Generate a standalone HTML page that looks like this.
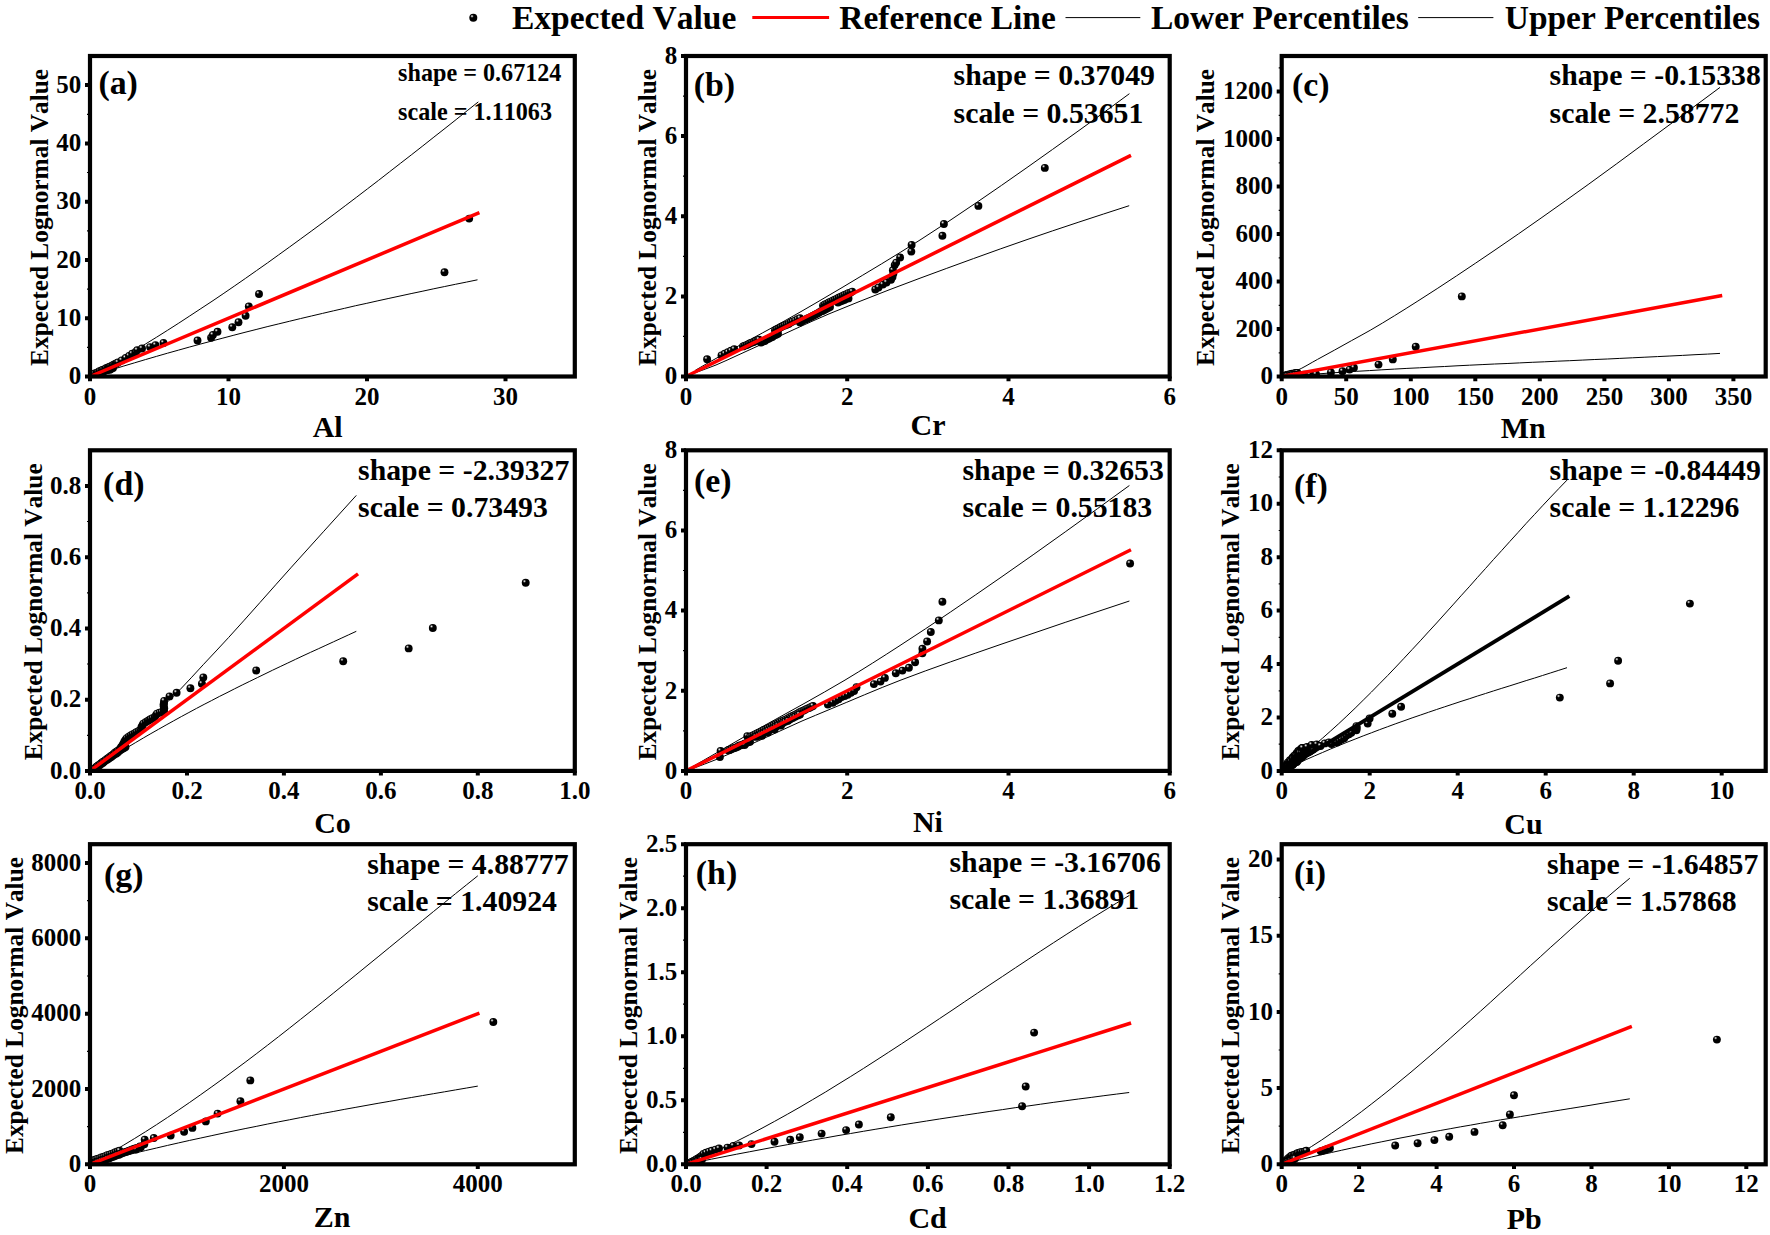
<!DOCTYPE html>
<html lang="en"><head><meta charset="utf-8"><title>Lognormal Q-Q plots</title>
<style>html,body{margin:0;padding:0;background:#fff}svg{display:block}text{font-family:"Liberation Serif", "Times New Roman", serif;font-weight:bold;fill:#000;font-kerning:none}.tk{font-size:25px}.ti{font-size:30px}.yt{font-size:26px}.lb{font-size:33.9px}.lg{font-size:33px}</style></head><body>
<svg width="1770" height="1235" viewBox="0 0 1770 1235">
<defs><radialGradient id="sp" cx="0.34" cy="0.30" r="0.62" fx="0.34" fy="0.30"><stop offset="0" stop-color="#f4f4f4"/><stop offset="0.11" stop-color="#b0b0b0"/><stop offset="0.25" stop-color="#3a3a3a"/><stop offset="0.36" stop-color="#000"/><stop offset="1" stop-color="#000"/></radialGradient></defs>
<rect width="1770" height="1235" fill="#fff"/>
<g id="legend">
<circle cx="473.3" cy="17.8" r="4" fill="url(#sp)"/>
<text class="lg" x="511.9" y="28.6" textLength="224.5" lengthAdjust="spacingAndGlyphs">Expected Value</text>
<line x1="752.3" y1="17.6" x2="829.1" y2="17.6" stroke="#f00" stroke-width="3"/>
<text class="lg" x="839.3" y="28.6" textLength="216.5" lengthAdjust="spacingAndGlyphs">Reference Line</text>
<line x1="1065.5" y1="17.6" x2="1140.3" y2="17.6" stroke="#000" stroke-width="1"/>
<text class="lg" x="1150.9" y="28.6" textLength="257.9" lengthAdjust="spacingAndGlyphs">Lower Percentiles</text>
<line x1="1418.2" y1="17.6" x2="1493.4" y2="17.6" stroke="#000" stroke-width="1"/>
<text class="lg" x="1504.8" y="28.6" textLength="255.1" lengthAdjust="spacingAndGlyphs">Upper Percentiles</text>
</g>
<g id="panel-a">
<path fill="none" stroke="#000" stroke-width="1.0" d="M90 376.5L101.1 370.3L112.2 363.9L123.3 357.4L134.4 350.8L145.5 344L156.6 337.2L167.7 330.2L178.8 323.1L189.8 315.9L200.9 308.6L212 301.3L223.1 293.8L234.2 286.2L245.3 278.5L256.4 270.7L267.5 262.9L278.6 254.9L289.7 246.9L300.8 238.8L311.9 230.7L323 222.5L334.1 214.2L345.2 205.8L356.3 197.4L367.4 188.9L378.5 180.4L389.5 171.8L400.6 163.2L411.7 154.6L422.8 145.9L433.9 137.1L445 128.4L456.1 119.6L467.2 110.7L478.3 101.9"/>
<path fill="none" stroke="#000" stroke-width="1.0" d="M90 376.5L101.1 373L112.1 369.6L123.2 366.2L134.3 362.9L145.4 359.6L156.4 356.4L167.5 353.2L178.6 350.1L189.6 347L200.7 344L211.8 341L222.9 338.1L233.9 335.2L245 332.3L256.1 329.5L267.1 326.7L278.2 324L289.3 321.3L300.4 318.6L311.4 316L322.5 313.4L333.6 310.8L344.6 308.3L355.7 305.7L366.8 303.3L377.9 300.8L388.9 298.4L400 296L411.1 293.6L422.1 291.3L433.2 288.9L444.3 286.6L455.4 284.3L466.4 282.1L477.5 279.8"/>
<clipPath id="cp-a"><rect x="90" y="56" width="484.8" height="320.5"/></clipPath>
<g fill="url(#sp)" clip-path="url(#cp-a)">
<circle cx="90.9" cy="375.7" r="3.95"/><circle cx="92.6" cy="375" r="3.95"/><circle cx="94" cy="374.7" r="3.95"/><circle cx="95.2" cy="374.3" r="3.95"/><circle cx="96.7" cy="373.6" r="3.95"/><circle cx="98.2" cy="372.7" r="3.95"/><circle cx="100" cy="372.8" r="3.95"/><circle cx="101.2" cy="371.8" r="3.95"/><circle cx="102.9" cy="372.1" r="3.95"/><circle cx="104.3" cy="371.1" r="3.95"/><circle cx="106" cy="370.3" r="3.95"/><circle cx="107.4" cy="370.1" r="3.95"/><circle cx="108.4" cy="369.5" r="3.95"/><circle cx="109.9" cy="369.8" r="3.95"/><circle cx="111.3" cy="368.8" r="3.95"/><circle cx="113" cy="368" r="3.95"/><circle cx="92.1" cy="375.2" r="3.95"/><circle cx="93.5" cy="374.2" r="3.95"/><circle cx="94.7" cy="373.5" r="3.95"/><circle cx="96.6" cy="372.9" r="3.95"/><circle cx="97.9" cy="372.2" r="3.95"/><circle cx="99.5" cy="371.2" r="3.95"/><circle cx="101.2" cy="370.8" r="3.95"/><circle cx="102.3" cy="370" r="3.95"/><circle cx="104" cy="369.6" r="3.95"/><circle cx="105.6" cy="368.4" r="3.95"/><circle cx="107.3" cy="367.6" r="3.95"/><circle cx="108.5" cy="367.5" r="3.95"/><circle cx="109.8" cy="366.6" r="3.95"/><circle cx="111.1" cy="366.1" r="3.95"/><circle cx="112.8" cy="365.3" r="3.95"/><circle cx="114.2" cy="364.4" r="3.95"/><circle cx="115.5" cy="363.9" r="3.95"/><circle cx="116.7" cy="363.1" r="3.95"/><circle cx="118" cy="362.5" r="3.95"/><circle cx="121.7" cy="360.4" r="3.95"/><circle cx="125.7" cy="358" r="3.95"/><circle cx="129.1" cy="355.9" r="3.95"/><circle cx="132.2" cy="353.7" r="3.95"/><circle cx="135.5" cy="352.2" r="3.95"/><circle cx="137.2" cy="350.2" r="3.95"/><circle cx="142" cy="348.5" r="3.95"/><circle cx="150.1" cy="347.1" r="3.95"/><circle cx="155.5" cy="345.1" r="3.95"/><circle cx="163.5" cy="342.9" r="3.95"/><circle cx="197.5" cy="340.5" r="3.95"/><circle cx="211.1" cy="337.8" r="3.95"/><circle cx="212.9" cy="335" r="3.95"/><circle cx="217.5" cy="331.8" r="3.95"/><circle cx="232.3" cy="327.2" r="3.95"/><circle cx="238.5" cy="322.2" r="3.95"/><circle cx="245.6" cy="315.8" r="3.95"/><circle cx="248.8" cy="306.5" r="3.95"/><circle cx="259" cy="294" r="3.95"/><circle cx="444.5" cy="272.3" r="3.95"/><circle cx="469.2" cy="218.6" r="3.95"/>
</g>
<line x1="90" y1="376.5" x2="477.8" y2="213.3" stroke="#f00" stroke-width="3.5" stroke-linecap="square"/>
<rect x="90" y="56" width="484.8" height="320.5" fill="none" stroke="#000" stroke-width="4.2"/>
<path d="M90 376.5v4.7M228.5 376.5v4.7M367 376.5v4.7M505.5 376.5v4.7M90 376.5h-5M90 318.2h-5M90 260h-5M90 201.7h-5M90 143.4h-5M90 85.1h-5" stroke="#000" stroke-width="4" fill="none"/>
<path d="M90 347.4h-3.0M90 289.1h-3.0M90 230.8h-3.0M90 172.5h-3.0M90 114.3h-3.0" stroke="#000" stroke-width="1.2" fill="none"/>
<text class="tk" x="90" y="404.5" text-anchor="middle">0</text>
<text class="tk" x="228.5" y="404.5" text-anchor="middle">10</text>
<text class="tk" x="367" y="404.5" text-anchor="middle">20</text>
<text class="tk" x="505.5" y="404.5" text-anchor="middle">30</text>
<text class="tk" x="81.2" y="384.2" text-anchor="end">0</text>
<text class="tk" x="81.2" y="325.9" text-anchor="end">10</text>
<text class="tk" x="81.2" y="267.7" text-anchor="end">20</text>
<text class="tk" x="81.2" y="209.4" text-anchor="end">30</text>
<text class="tk" x="81.2" y="151.1" text-anchor="end">40</text>
<text class="tk" x="81.2" y="92.8" text-anchor="end">50</text>
<text class="ti" x="327.7" y="436.7" text-anchor="middle">Al</text>
<text class="yt" transform="translate(48.4 217.4) rotate(-90)" text-anchor="middle" textLength="297" lengthAdjust="spacingAndGlyphs">Expected Lognormal Value</text>
<text class="lb" x="98.4" y="94.4">(a)</text>
<text x="398.1" y="81.2" style="font-size:24.15px">shape = 0.67124</text>
<text x="398.1" y="119.6" style="font-size:24.15px">scale = 1.11063</text>
</g>
<g id="panel-b">
<path fill="none" stroke="#000" stroke-width="1.0" d="M695.3 370.3C698.9 368.2 702.4 366.1 706 364.1C717.5 357.5 729 351.1 740.5 344.8C755 336.8 769.5 329.3 784 321.2C794.7 315.3 805.3 309.1 816 302.9C825 297.7 834 292.4 843 287C868.7 271.6 894.3 256.4 920 240C938.7 228.1 957.3 215.6 976 202.9C1010 179.8 1044 155.6 1078 131.2C1095.1 118.9 1112.3 106.3 1129.4 93.7"/>
<path fill="none" stroke="#000" stroke-width="1.0" d="M695.3 372.7C702.2 370.2 709.1 367.8 716 365C723.3 362 730.7 358.4 738 355.1C745.7 351.6 753.3 348.1 761 344.6C783.7 334.4 806.3 323.5 829 313.9C849 305.5 869 297.7 889 289.9C899.3 285.9 909.7 282.1 920 278.2C955.7 265 991.3 251.9 1027 239.6C1061.1 227.8 1095.1 216.7 1129.2 205.7"/>
<clipPath id="cp-b"><rect x="686" y="56" width="483.7" height="320.5"/></clipPath>
<g fill="url(#sp)" clip-path="url(#cp-b)">
<circle cx="707.1" cy="359.3" r="3.95"/><circle cx="721.5" cy="355.4" r="3.95"/><circle cx="724.7" cy="353.8" r="3.95"/><circle cx="727.9" cy="352.3" r="3.95"/><circle cx="731" cy="350.8" r="3.95"/><circle cx="734.2" cy="349.2" r="3.95"/><circle cx="743" cy="346.4" r="3.95"/><circle cx="744.8" cy="345.6" r="3.95"/><circle cx="746.6" cy="345.1" r="3.95"/><circle cx="748.3" cy="344.3" r="3.95"/><circle cx="750.1" cy="343.3" r="3.95"/><circle cx="751.9" cy="342.6" r="3.95"/><circle cx="753.7" cy="342.1" r="3.95"/><circle cx="755.4" cy="341" r="3.95"/><circle cx="757.2" cy="340.5" r="3.95"/><circle cx="759" cy="339.6" r="3.95"/><circle cx="761" cy="342.6" r="3.95"/><circle cx="762.9" cy="341.6" r="3.95"/><circle cx="764.8" cy="341" r="3.95"/><circle cx="766.7" cy="339.6" r="3.95"/><circle cx="768.6" cy="338.7" r="3.95"/><circle cx="770.4" cy="337.7" r="3.95"/><circle cx="772.3" cy="337" r="3.95"/><circle cx="774.2" cy="335.5" r="3.95"/><circle cx="776.1" cy="334.8" r="3.95"/><circle cx="778" cy="333.8" r="3.95"/><circle cx="775" cy="330.3" r="3.95"/><circle cx="776.9" cy="329.3" r="3.95"/><circle cx="778.9" cy="328.5" r="3.95"/><circle cx="780.8" cy="327.2" r="3.95"/><circle cx="782.8" cy="326.3" r="3.95"/><circle cx="784.7" cy="325.4" r="3.95"/><circle cx="786.7" cy="324.8" r="3.95"/><circle cx="788.6" cy="323.9" r="3.95"/><circle cx="790.6" cy="322.5" r="3.95"/><circle cx="792.5" cy="321.6" r="3.95"/><circle cx="795" cy="320.6" r="3.95"/><circle cx="797.5" cy="319.3" r="3.95"/><circle cx="800" cy="318.2" r="3.95"/><circle cx="800" cy="322.4" r="3.95"/><circle cx="801.9" cy="321.2" r="3.95"/><circle cx="803.8" cy="320.1" r="3.95"/><circle cx="805.6" cy="319.4" r="3.95"/><circle cx="807.5" cy="318.4" r="3.95"/><circle cx="809.4" cy="317.6" r="3.95"/><circle cx="811.2" cy="316.8" r="3.95"/><circle cx="813.1" cy="315.7" r="3.95"/><circle cx="815" cy="314.7" r="3.95"/><circle cx="816.9" cy="313.8" r="3.95"/><circle cx="818.8" cy="312.8" r="3.95"/><circle cx="820.6" cy="311.5" r="3.95"/><circle cx="822.5" cy="311" r="3.95"/><circle cx="824.4" cy="310" r="3.95"/><circle cx="826.2" cy="309.1" r="3.95"/><circle cx="828.1" cy="308.1" r="3.95"/><circle cx="830" cy="306.9" r="3.95"/><circle cx="823" cy="305.6" r="3.95"/><circle cx="824.9" cy="304.4" r="3.95"/><circle cx="826.9" cy="303.8" r="3.95"/><circle cx="828.8" cy="302.5" r="3.95"/><circle cx="830.8" cy="301.6" r="3.95"/><circle cx="832.7" cy="300.7" r="3.95"/><circle cx="834.7" cy="299.8" r="3.95"/><circle cx="836.6" cy="298.9" r="3.95"/><circle cx="838.6" cy="297.8" r="3.95"/><circle cx="840.5" cy="296.9" r="3.95"/><circle cx="842.5" cy="296" r="3.95"/><circle cx="844.4" cy="295" r="3.95"/><circle cx="846.4" cy="294.3" r="3.95"/><circle cx="848.3" cy="293.1" r="3.95"/><circle cx="850.3" cy="292.7" r="3.95"/><circle cx="852.2" cy="291.6" r="3.95"/><circle cx="838" cy="302.5" r="3.95"/><circle cx="840.1" cy="301.6" r="3.95"/><circle cx="842.2" cy="300.8" r="3.95"/><circle cx="844.3" cy="299.9" r="3.95"/><circle cx="846.4" cy="298.8" r="3.95"/><circle cx="848.5" cy="298.4" r="3.95"/><circle cx="875.3" cy="289.5" r="3.95"/><circle cx="878.5" cy="287.5" r="3.95"/><circle cx="882.9" cy="284.6" r="3.95"/><circle cx="886.5" cy="282.5" r="3.95"/><circle cx="891" cy="279.8" r="3.95"/><circle cx="892.5" cy="276.9" r="3.95"/><circle cx="893.4" cy="273.5" r="3.95"/><circle cx="892.9" cy="270.3" r="3.95"/><circle cx="894.7" cy="265.1" r="3.95"/><circle cx="896.2" cy="262.6" r="3.95"/><circle cx="900.1" cy="257.5" r="3.95"/><circle cx="911.3" cy="251.6" r="3.95"/><circle cx="911.6" cy="244.9" r="3.95"/><circle cx="942.4" cy="235.8" r="3.95"/><circle cx="943.9" cy="224" r="3.95"/><circle cx="978.4" cy="205.9" r="3.95"/><circle cx="1044.8" cy="167.9" r="3.95"/>
</g>
<line x1="686" y1="376.5" x2="1129.4" y2="156.2" stroke="#f00" stroke-width="3.5" stroke-linecap="square"/>
<rect x="686" y="56" width="483.7" height="320.5" fill="none" stroke="#000" stroke-width="4.2"/>
<path d="M686 376.5v4.7M847.2 376.5v4.7M1008.5 376.5v4.7M1169.7 376.5v4.7M686 376.5h-5M686 296.4h-5M686 216.2h-5M686 136.1h-5M686 56h-5" stroke="#000" stroke-width="4" fill="none"/>
<path d="M686 336.4h-3.0M686 256.3h-3.0M686 176.2h-3.0M686 96.1h-3.0" stroke="#000" stroke-width="1.2" fill="none"/>
<text class="tk" x="686" y="404.5" text-anchor="middle">0</text>
<text class="tk" x="847.2" y="404.5" text-anchor="middle">2</text>
<text class="tk" x="1008.5" y="404.5" text-anchor="middle">4</text>
<text class="tk" x="1169.7" y="404.5" text-anchor="middle">6</text>
<text class="tk" x="677.2" y="384.2" text-anchor="end">0</text>
<text class="tk" x="677.2" y="304.1" text-anchor="end">2</text>
<text class="tk" x="677.2" y="223.9" text-anchor="end">4</text>
<text class="tk" x="677.2" y="143.8" text-anchor="end">6</text>
<text class="tk" x="677.2" y="63.7" text-anchor="end">8</text>
<text class="ti" x="928.1" y="435.3" text-anchor="middle">Cr</text>
<text class="yt" transform="translate(656.2 217.4) rotate(-90)" text-anchor="middle" textLength="297" lengthAdjust="spacingAndGlyphs">Expected Lognormal Value</text>
<text class="lb" x="693.7" y="96.3">(b)</text>
<text x="953.6" y="85.1" style="font-size:29.78px">shape = 0.37049</text>
<text x="953.6" y="123.1" style="font-size:29.78px">scale = 0.53651</text>
</g>
<g id="panel-c">
<path fill="none" stroke="#000" stroke-width="1.0" d="M1281.7 376.5C1286.7 374.7 1291.6 372.9 1296.6 370.7C1303.6 367.6 1310.5 363.2 1317.5 359.4C1323.2 356.3 1328.8 353.2 1334.5 350.1C1340.1 347 1345.8 343.8 1351.4 340.7C1357.8 337.1 1364.3 333.7 1370.7 330C1386.4 320.9 1402.2 311 1417.9 301C1443.6 284.7 1469.3 267.5 1495 250C1526.3 228.7 1557.6 206.5 1588.9 184C1607.1 170.9 1625.4 157.3 1643.6 143.9C1669.1 125.2 1694.5 106.3 1720 87.4"/>
<path fill="none" stroke="#000" stroke-width="1.0" d="M1281.7 376.5L1294.2 375.6L1306.7 374.7L1319.3 373.8L1331.8 372.9L1344.3 372.1L1356.8 371.3L1369.4 370.6L1381.9 369.8L1394.4 369.1L1406.9 368.4L1419.5 367.8L1432 367.1L1444.5 366.5L1457 365.8L1469.5 365.2L1482.1 364.6L1494.6 364L1507.1 363.5L1519.6 362.9L1532.2 362.3L1544.7 361.8L1557.2 361.2L1569.7 360.7L1582.2 360.1L1594.8 359.5L1607.3 359L1619.8 358.4L1632.3 357.8L1644.9 357.2L1657.4 356.6L1669.9 356L1682.4 355.4L1695 354.7L1707.5 354.1L1720 353.4"/>
<clipPath id="cp-c"><rect x="1281.7" y="56" width="484" height="320.5"/></clipPath>
<g fill="url(#sp)" clip-path="url(#cp-c)">
<circle cx="1283.7" cy="376.3" r="3.95"/><circle cx="1284.6" cy="375.7" r="3.95"/><circle cx="1285.6" cy="375.5" r="3.95"/><circle cx="1286.8" cy="375.3" r="3.95"/><circle cx="1287.9" cy="374.6" r="3.95"/><circle cx="1289.6" cy="374.5" r="3.95"/><circle cx="1290.7" cy="374.2" r="3.95"/><circle cx="1292" cy="373.8" r="3.95"/><circle cx="1293.8" cy="373.7" r="3.95"/><circle cx="1295" cy="373.2" r="3.95"/><circle cx="1296.1" cy="372.9" r="3.95"/><circle cx="1297.5" cy="372.9" r="3.95"/><circle cx="1284.1" cy="376" r="3.95"/><circle cx="1285.7" cy="375.8" r="3.95"/><circle cx="1287.1" cy="375.8" r="3.95"/><circle cx="1289" cy="375.7" r="3.95"/><circle cx="1290.5" cy="375.6" r="3.95"/><circle cx="1292.1" cy="375.2" r="3.95"/><circle cx="1293.7" cy="375.2" r="3.95"/><circle cx="1295.1" cy="374.9" r="3.95"/><circle cx="1296.9" cy="375" r="3.95"/><circle cx="1298.7" cy="375.1" r="3.95"/><circle cx="1300.3" cy="375.1" r="3.95"/><circle cx="1302.2" cy="375" r="3.95"/><circle cx="1303.5" cy="374.6" r="3.95"/><circle cx="1305.1" cy="374.6" r="3.95"/><circle cx="1306.7" cy="374.7" r="3.95"/><circle cx="1308.6" cy="374.7" r="3.95"/><circle cx="1310" cy="374.5" r="3.95"/><circle cx="1316" cy="374.3" r="3.95"/><circle cx="1330.9" cy="372.4" r="3.95"/><circle cx="1342.5" cy="371.2" r="3.95"/><circle cx="1349.6" cy="369.6" r="3.95"/><circle cx="1353.9" cy="367.8" r="3.95"/><circle cx="1378.5" cy="364.6" r="3.95"/><circle cx="1392.8" cy="359.4" r="3.95"/><circle cx="1415.7" cy="346.7" r="3.95"/><circle cx="1461.8" cy="296.4" r="3.95"/>
</g>
<line x1="1281.7" y1="376.5" x2="1720.5" y2="295.8" stroke="#f00" stroke-width="3.5" stroke-linecap="square"/>
<rect x="1281.7" y="56" width="484" height="320.5" fill="none" stroke="#000" stroke-width="4.2"/>
<path d="M1281.7 376.5v4.7M1346.2 376.5v4.7M1410.8 376.5v4.7M1475.3 376.5v4.7M1539.8 376.5v4.7M1604.4 376.5v4.7M1668.9 376.5v4.7M1733.4 376.5v4.7M1281.7 376.5h-5M1281.7 329h-5M1281.7 281.5h-5M1281.7 234.1h-5M1281.7 186.6h-5M1281.7 139.1h-5M1281.7 91.6h-5" stroke="#000" stroke-width="4" fill="none"/>
<path d="M1281.7 352.8h-3.0M1281.7 305.3h-3.0M1281.7 257.8h-3.0M1281.7 210.3h-3.0M1281.7 162.8h-3.0M1281.7 115.4h-3.0M1281.7 67.9h-3.0" stroke="#000" stroke-width="1.2" fill="none"/>
<text class="tk" x="1281.7" y="404.5" text-anchor="middle">0</text>
<text class="tk" x="1346.2" y="404.5" text-anchor="middle">50</text>
<text class="tk" x="1410.8" y="404.5" text-anchor="middle">100</text>
<text class="tk" x="1475.3" y="404.5" text-anchor="middle">150</text>
<text class="tk" x="1539.8" y="404.5" text-anchor="middle">200</text>
<text class="tk" x="1604.4" y="404.5" text-anchor="middle">250</text>
<text class="tk" x="1668.9" y="404.5" text-anchor="middle">300</text>
<text class="tk" x="1733.4" y="404.5" text-anchor="middle">350</text>
<text class="tk" x="1272.9" y="384.2" text-anchor="end">0</text>
<text class="tk" x="1272.9" y="336.7" text-anchor="end">200</text>
<text class="tk" x="1272.9" y="289.2" text-anchor="end">400</text>
<text class="tk" x="1272.9" y="241.8" text-anchor="end">600</text>
<text class="tk" x="1272.9" y="194.3" text-anchor="end">800</text>
<text class="tk" x="1272.9" y="146.8" text-anchor="end">1000</text>
<text class="tk" x="1272.9" y="99.3" text-anchor="end">1200</text>
<text class="ti" x="1523.2" y="437.6" text-anchor="middle">Mn</text>
<text class="yt" transform="translate(1214.2 217.4) rotate(-90)" text-anchor="middle" textLength="297" lengthAdjust="spacingAndGlyphs">Expected Lognormal Value</text>
<text class="lb" x="1292" y="96.3">(c)</text>
<text x="1549.6" y="85.1" style="font-size:29.78px">shape = -0.15338</text>
<text x="1549.6" y="123.1" style="font-size:29.78px">scale = 2.58772</text>
</g>
<g id="panel-d">
<path fill="none" stroke="#000" stroke-width="1.0" d="M90 770.9C101.7 761.6 113.3 752.3 125 742C133.3 734.6 141.7 726.4 150 718.5C156.7 712.2 163.3 705.9 170 699.5C173.3 696.3 176.6 693.2 179.9 689.8C187.8 681.7 195.7 672.8 203.6 664.3C211.9 655.4 220.3 646.6 228.6 637.5C249.5 614.6 270.5 590.5 291.4 567.2C313 543.1 334.7 519.3 356.3 495.4"/>
<path fill="none" stroke="#000" stroke-width="1.0" d="M90 770.9L97.6 766L105.2 761.1L112.8 756.4L120.4 751.7L128 747.1L135.7 742.5L143.3 738L150.9 733.6L158.5 729.3L166.1 725L173.7 720.8L181.3 716.6L188.9 712.5L196.5 708.4L204.1 704.4L211.7 700.5L219.3 696.5L227 692.7L234.6 688.8L242.2 685L249.8 681.3L257.4 677.6L265 673.9L272.6 670.2L280.2 666.6L287.8 663L295.4 659.4L303 655.8L310.6 652.3L318.3 648.8L325.9 645.3L333.5 641.8L341.1 638.3L348.7 634.8L356.3 631.3"/>
<clipPath id="cp-d"><rect x="90" y="450.3" width="484.8" height="320.6"/></clipPath>
<g fill="url(#sp)" clip-path="url(#cp-d)">
<circle cx="92" cy="770.3" r="3.95"/><circle cx="93.5" cy="769.3" r="3.95"/><circle cx="95" cy="768.3" r="3.95"/><circle cx="96.6" cy="766.9" r="3.95"/><circle cx="98.1" cy="766.1" r="3.95"/><circle cx="99.6" cy="765.2" r="3.95"/><circle cx="101.1" cy="764" r="3.95"/><circle cx="102.7" cy="762.9" r="3.95"/><circle cx="104.2" cy="761.7" r="3.95"/><circle cx="105.7" cy="760.5" r="3.95"/><circle cx="107.2" cy="759.7" r="3.95"/><circle cx="108.8" cy="758.4" r="3.95"/><circle cx="110.3" cy="757.6" r="3.95"/><circle cx="111.8" cy="756.6" r="3.95"/><circle cx="113.3" cy="755.3" r="3.95"/><circle cx="114.8" cy="754.2" r="3.95"/><circle cx="116.4" cy="753.4" r="3.95"/><circle cx="117.9" cy="752.2" r="3.95"/><circle cx="119.4" cy="750.8" r="3.95"/><circle cx="120.9" cy="749.7" r="3.95"/><circle cx="122.5" cy="748.7" r="3.95"/><circle cx="124" cy="748" r="3.95"/><circle cx="125.5" cy="746.9" r="3.95"/><circle cx="92" cy="770" r="3.95"/><circle cx="93.5" cy="769.2" r="3.95"/><circle cx="95.1" cy="768.1" r="3.95"/><circle cx="96.6" cy="766.8" r="3.95"/><circle cx="98.1" cy="765.5" r="3.95"/><circle cx="99.6" cy="764.4" r="3.95"/><circle cx="101.2" cy="763.1" r="3.95"/><circle cx="102.7" cy="761.9" r="3.95"/><circle cx="104.2" cy="761.2" r="3.95"/><circle cx="105.7" cy="759.9" r="3.95"/><circle cx="107.3" cy="758.7" r="3.95"/><circle cx="108.8" cy="757.8" r="3.95"/><circle cx="110.3" cy="756.4" r="3.95"/><circle cx="111.8" cy="755.5" r="3.95"/><circle cx="113.4" cy="754.3" r="3.95"/><circle cx="114.9" cy="752.8" r="3.95"/><circle cx="116.4" cy="751.7" r="3.95"/><circle cx="117.9" cy="750.6" r="3.95"/><circle cx="119.5" cy="749.4" r="3.95"/><circle cx="121" cy="748.5" r="3.95"/><circle cx="120.9" cy="747.5" r="3.95"/><circle cx="121.9" cy="746.2" r="3.95"/><circle cx="122.9" cy="744.5" r="3.95"/><circle cx="123.8" cy="743.5" r="3.95"/><circle cx="124.6" cy="742.2" r="3.95"/><circle cx="124.4" cy="741.5" r="3.95"/><circle cx="125.6" cy="739.8" r="3.95"/><circle cx="126.7" cy="738.1" r="3.95"/><circle cx="128.8" cy="736.7" r="3.95"/><circle cx="130.7" cy="735.4" r="3.95"/><circle cx="132.5" cy="734.4" r="3.95"/><circle cx="134.5" cy="733.5" r="3.95"/><circle cx="136.3" cy="732.3" r="3.95"/><circle cx="138.4" cy="731.3" r="3.95"/><circle cx="140.2" cy="730" r="3.95"/><circle cx="141.5" cy="726.9" r="3.95"/><circle cx="142.6" cy="725.3" r="3.95"/><circle cx="143.3" cy="723.6" r="3.95"/><circle cx="145.6" cy="722.3" r="3.95"/><circle cx="147.5" cy="721.1" r="3.95"/><circle cx="149" cy="720.3" r="3.95"/><circle cx="150.5" cy="719.3" r="3.95"/><circle cx="152.5" cy="718.3" r="3.95"/><circle cx="154.7" cy="717.1" r="3.95"/><circle cx="156" cy="715.1" r="3.95"/><circle cx="157" cy="713.6" r="3.95"/><circle cx="159.5" cy="712.7" r="3.95"/><circle cx="161.6" cy="712.2" r="3.95"/><circle cx="163.9" cy="711.5" r="3.95"/><circle cx="163.9" cy="709.9" r="3.95"/><circle cx="164.2" cy="708.2" r="3.95"/><circle cx="163.7" cy="706.3" r="3.95"/><circle cx="163.6" cy="704.4" r="3.95"/><circle cx="164" cy="702.9" r="3.95"/><circle cx="164.1" cy="700.9" r="3.95"/><circle cx="169.5" cy="696.4" r="3.95"/><circle cx="176.6" cy="692.8" r="3.95"/><circle cx="190.4" cy="688.3" r="3.95"/><circle cx="201.9" cy="683.7" r="3.95"/><circle cx="203.3" cy="677.4" r="3.95"/><circle cx="256.2" cy="670.5" r="3.95"/><circle cx="343.2" cy="661.2" r="3.95"/><circle cx="408.7" cy="648.4" r="3.95"/><circle cx="432.8" cy="628" r="3.95"/><circle cx="525.7" cy="582.8" r="3.95"/>
</g>
<line x1="90" y1="770.9" x2="356.6" y2="575" stroke="#f00" stroke-width="3.5" stroke-linecap="square"/>
<rect x="90" y="450.3" width="484.8" height="320.6" fill="none" stroke="#000" stroke-width="4.2"/>
<path d="M90 770.9v4.7M187 770.9v4.7M283.9 770.9v4.7M380.9 770.9v4.7M477.8 770.9v4.7M574.8 770.9v4.7M90 770.9h-5M90 699.7h-5M90 628.4h-5M90 557.2h-5M90 485.9h-5" stroke="#000" stroke-width="4" fill="none"/>
<path d="M90 735.3h-3.0M90 664h-3.0M90 592.8h-3.0M90 521.5h-3.0" stroke="#000" stroke-width="1.2" fill="none"/>
<text class="tk" x="90" y="798.9" text-anchor="middle">0.0</text>
<text class="tk" x="187" y="798.9" text-anchor="middle">0.2</text>
<text class="tk" x="283.9" y="798.9" text-anchor="middle">0.4</text>
<text class="tk" x="380.9" y="798.9" text-anchor="middle">0.6</text>
<text class="tk" x="477.8" y="798.9" text-anchor="middle">0.8</text>
<text class="tk" x="574.8" y="798.9" text-anchor="middle">1.0</text>
<text class="tk" x="81.2" y="778.6" text-anchor="end">0.0</text>
<text class="tk" x="81.2" y="707.4" text-anchor="end">0.2</text>
<text class="tk" x="81.2" y="636.1" text-anchor="end">0.4</text>
<text class="tk" x="81.2" y="564.9" text-anchor="end">0.6</text>
<text class="tk" x="81.2" y="493.6" text-anchor="end">0.8</text>
<text class="ti" x="332.5" y="832.7" text-anchor="middle">Co</text>
<text class="yt" transform="translate(41.6 611.8) rotate(-90)" text-anchor="middle" textLength="297" lengthAdjust="spacingAndGlyphs">Expected Lognormal Value</text>
<text class="lb" x="103.1" y="494.7">(d)</text>
<text x="358.1" y="479.6" style="font-size:29.78px">shape = -2.39327</text>
<text x="358.1" y="516.9" style="font-size:29.78px">scale = 0.73493</text>
</g>
<g id="panel-e">
<path fill="none" stroke="#000" stroke-width="1.0" d="M693 766.4C700.7 762 708.3 757.6 716 753.2C727.3 746.6 738.7 739.9 750 733.5C768 723.3 786 713.8 804 703.6C817.7 695.9 831.3 688.2 845 680.1C863.3 669.1 881.7 657.4 900 645.5C933.7 623.7 967.3 600.7 1001 577.3C1043.8 547.6 1086.6 516.6 1129.4 485.5"/>
<path fill="none" stroke="#000" stroke-width="1.0" d="M693 768.4C700.7 765.6 708.3 762.7 716 759.6C727.3 755 738.7 749.7 750 744.7C767.3 737 784.7 728.6 802 721C811 717.1 820 713.5 829 709.7C852.7 699.9 876.3 689.5 900 680.4C933.7 667.5 967.3 656 1001 644.3C1043.8 629.4 1086.6 615.2 1129.4 601"/>
<clipPath id="cp-e"><rect x="686" y="450.3" width="483.7" height="320.6"/></clipPath>
<g fill="url(#sp)" clip-path="url(#cp-e)">
<circle cx="719.9" cy="757" r="3.95"/><circle cx="720.6" cy="751" r="3.95"/><circle cx="728" cy="750.2" r="3.95"/><circle cx="729.8" cy="749.9" r="3.95"/><circle cx="731.7" cy="748.8" r="3.95"/><circle cx="733.5" cy="748.2" r="3.95"/><circle cx="735.3" cy="747.7" r="3.95"/><circle cx="737.2" cy="746.9" r="3.95"/><circle cx="739" cy="745.8" r="3.95"/><circle cx="740.8" cy="745.2" r="3.95"/><circle cx="742.7" cy="744.6" r="3.95"/><circle cx="744.5" cy="743.7" r="3.95"/><circle cx="746.3" cy="742.9" r="3.95"/><circle cx="748.2" cy="742.3" r="3.95"/><circle cx="750" cy="741.8" r="3.95"/><circle cx="747.3" cy="736.2" r="3.95"/><circle cx="750" cy="736.8" r="3.95"/><circle cx="752" cy="736" r="3.95"/><circle cx="753.9" cy="735" r="3.95"/><circle cx="755.9" cy="733.9" r="3.95"/><circle cx="757.9" cy="733" r="3.95"/><circle cx="759.8" cy="732.2" r="3.95"/><circle cx="761.8" cy="731.2" r="3.95"/><circle cx="763.8" cy="730" r="3.95"/><circle cx="765.8" cy="729.4" r="3.95"/><circle cx="767.7" cy="728.3" r="3.95"/><circle cx="769.7" cy="727.5" r="3.95"/><circle cx="771.7" cy="726.1" r="3.95"/><circle cx="773.6" cy="725.2" r="3.95"/><circle cx="775.6" cy="724.2" r="3.95"/><circle cx="777.6" cy="723.5" r="3.95"/><circle cx="779.5" cy="722.3" r="3.95"/><circle cx="781.5" cy="721.3" r="3.95"/><circle cx="783.5" cy="720.4" r="3.95"/><circle cx="785.4" cy="719.6" r="3.95"/><circle cx="787.4" cy="718.6" r="3.95"/><circle cx="789.4" cy="717.4" r="3.95"/><circle cx="791.3" cy="716.4" r="3.95"/><circle cx="793.3" cy="715.8" r="3.95"/><circle cx="795.3" cy="714.6" r="3.95"/><circle cx="797.2" cy="713.7" r="3.95"/><circle cx="799.2" cy="712.5" r="3.95"/><circle cx="801.2" cy="711.5" r="3.95"/><circle cx="803.2" cy="710.8" r="3.95"/><circle cx="805.1" cy="709.7" r="3.95"/><circle cx="807.1" cy="708.6" r="3.95"/><circle cx="809.1" cy="708" r="3.95"/><circle cx="811" cy="706.9" r="3.95"/><circle cx="813" cy="706" r="3.95"/><circle cx="756" cy="736.9" r="3.95"/><circle cx="758.4" cy="736.1" r="3.95"/><circle cx="760.9" cy="734.3" r="3.95"/><circle cx="763.3" cy="733.5" r="3.95"/><circle cx="765.8" cy="732" r="3.95"/><circle cx="768.2" cy="730.7" r="3.95"/><circle cx="770.7" cy="729.6" r="3.95"/><circle cx="773.1" cy="728.5" r="3.95"/><circle cx="775.6" cy="726.9" r="3.95"/><circle cx="778" cy="725.5" r="3.95"/><circle cx="780.4" cy="724.5" r="3.95"/><circle cx="782.9" cy="723.1" r="3.95"/><circle cx="785.3" cy="721.8" r="3.95"/><circle cx="787.8" cy="720.5" r="3.95"/><circle cx="790.2" cy="719.2" r="3.95"/><circle cx="792.7" cy="718" r="3.95"/><circle cx="795.1" cy="716.8" r="3.95"/><circle cx="797.6" cy="715.6" r="3.95"/><circle cx="800" cy="714.6" r="3.95"/><circle cx="744.6" cy="745" r="3.95"/><circle cx="762" cy="735.7" r="3.95"/><circle cx="768" cy="732.6" r="3.95"/><circle cx="774.5" cy="729.5" r="3.95"/><circle cx="781" cy="725.5" r="3.95"/><circle cx="788.1" cy="720.8" r="3.95"/><circle cx="799.3" cy="714.6" r="3.95"/><circle cx="827.9" cy="704.6" r="3.95"/><circle cx="832.8" cy="702.7" r="3.95"/><circle cx="835.7" cy="700.8" r="3.95"/><circle cx="838.6" cy="699.2" r="3.95"/><circle cx="841.6" cy="697.1" r="3.95"/><circle cx="844.7" cy="696.1" r="3.95"/><circle cx="847.7" cy="694.8" r="3.95"/><circle cx="850.9" cy="692.8" r="3.95"/><circle cx="854.1" cy="691" r="3.95"/><circle cx="856.5" cy="687.2" r="3.95"/><circle cx="873.9" cy="684.1" r="3.95"/><circle cx="880.5" cy="681.6" r="3.95"/><circle cx="884.9" cy="677.9" r="3.95"/><circle cx="895.8" cy="673.2" r="3.95"/><circle cx="902.4" cy="670.6" r="3.95"/><circle cx="908.9" cy="667.7" r="3.95"/><circle cx="915.1" cy="662.3" r="3.95"/><circle cx="922.4" cy="653.2" r="3.95"/><circle cx="922.4" cy="648.8" r="3.95"/><circle cx="927.1" cy="641.5" r="3.95"/><circle cx="930.8" cy="632" r="3.95"/><circle cx="938.8" cy="620.4" r="3.95"/><circle cx="942.4" cy="601.8" r="3.95"/><circle cx="1130.1" cy="563.5" r="3.95"/>
</g>
<line x1="686" y1="770.9" x2="1129.4" y2="550.5" stroke="#f00" stroke-width="3.5" stroke-linecap="square"/>
<rect x="686" y="450.3" width="483.7" height="320.6" fill="none" stroke="#000" stroke-width="4.2"/>
<path d="M686 770.9v4.7M847.2 770.9v4.7M1008.5 770.9v4.7M1169.7 770.9v4.7M686 770.9h-5M686 690.8h-5M686 610.6h-5M686 530.5h-5M686 450.3h-5" stroke="#000" stroke-width="4" fill="none"/>
<path d="M686 730.8h-3.0M686 650.7h-3.0M686 570.5h-3.0M686 490.4h-3.0" stroke="#000" stroke-width="1.2" fill="none"/>
<text class="tk" x="686" y="798.9" text-anchor="middle">0</text>
<text class="tk" x="847.2" y="798.9" text-anchor="middle">2</text>
<text class="tk" x="1008.5" y="798.9" text-anchor="middle">4</text>
<text class="tk" x="1169.7" y="798.9" text-anchor="middle">6</text>
<text class="tk" x="677.2" y="778.6" text-anchor="end">0</text>
<text class="tk" x="677.2" y="698.5" text-anchor="end">2</text>
<text class="tk" x="677.2" y="618.3" text-anchor="end">4</text>
<text class="tk" x="677.2" y="538.2" text-anchor="end">6</text>
<text class="tk" x="677.2" y="458" text-anchor="end">8</text>
<text class="ti" x="927.9" y="831.6" text-anchor="middle">Ni</text>
<text class="yt" transform="translate(656.2 611.8) rotate(-90)" text-anchor="middle" textLength="297" lengthAdjust="spacingAndGlyphs">Expected Lognormal Value</text>
<text class="lb" x="694" y="492.4">(e)</text>
<text x="962.5" y="479.6" style="font-size:29.78px">shape = 0.32653</text>
<text x="962.5" y="516.9" style="font-size:29.78px">scale = 0.55183</text>
</g>
<g id="panel-f">
<path fill="none" stroke="#000" stroke-width="1.0" d="M1281.7 770.9L1289.9 764.9L1298 758.5L1306.2 752L1314.3 745.2L1322.5 738.2L1330.6 731L1338.8 723.6L1346.9 716L1355.1 708.2L1363.2 700.2L1371.4 692.1L1379.5 683.8L1387.7 675.5L1395.8 667L1404 658.3L1412.1 649.6L1420.3 640.8L1428.4 631.9L1436.6 623L1444.7 614L1452.9 604.9L1461 595.8L1469.2 586.8L1477.3 577.6L1485.5 568.5L1493.6 559.4L1501.8 550.4L1509.9 541.4L1518.1 532.4L1526.2 523.4L1534.4 514.6L1542.5 505.8L1550.7 497.1L1558.8 488.6L1567 480.1"/>
<path fill="none" stroke="#000" stroke-width="1.0" d="M1281.7 770.9L1289.9 767L1298 763.3L1306.2 759.6L1314.3 756L1322.5 752.5L1330.6 749L1338.8 745.6L1346.9 742.3L1355.1 739.1L1363.2 735.9L1371.4 732.8L1379.5 729.7L1387.7 726.7L1395.8 723.7L1404 720.8L1412.1 717.9L1420.3 715.1L1428.4 712.3L1436.6 709.5L1444.7 706.8L1452.9 704.1L1461 701.4L1469.2 698.8L1477.3 696.1L1485.5 693.5L1493.6 690.9L1501.8 688.3L1509.9 685.8L1518.1 683.2L1526.2 680.6L1534.4 678.1L1542.5 675.5L1550.7 672.9L1558.8 670.3L1567 667.7"/>
<clipPath id="cp-f"><rect x="1281.7" y="450.3" width="484" height="320.6"/></clipPath>
<g fill="url(#sp)" clip-path="url(#cp-f)">
<circle cx="1283.5" cy="768.7" r="3.95"/><circle cx="1285" cy="767.2" r="3.95"/><circle cx="1285.8" cy="766.5" r="3.95"/><circle cx="1286.6" cy="765.1" r="3.95"/><circle cx="1287.2" cy="763.6" r="3.95"/><circle cx="1288" cy="762.5" r="3.95"/><circle cx="1289.6" cy="761.6" r="3.95"/><circle cx="1290" cy="760.3" r="3.95"/><circle cx="1291.5" cy="760" r="3.95"/><circle cx="1292.3" cy="758.4" r="3.95"/><circle cx="1292.7" cy="757.4" r="3.95"/><circle cx="1293.9" cy="756.3" r="3.95"/><circle cx="1294.7" cy="755.4" r="3.95"/><circle cx="1296.2" cy="755" r="3.95"/><circle cx="1296.6" cy="753.3" r="3.95"/><circle cx="1298" cy="752.3" r="3.95"/><circle cx="1298.3" cy="751" r="3.95"/><circle cx="1299.3" cy="750.6" r="3.95"/><circle cx="1300.5" cy="749.5" r="3.95"/><circle cx="1301.5" cy="748.4" r="3.95"/><circle cx="1302.5" cy="748" r="3.95"/><circle cx="1284.3" cy="769.1" r="3.95"/><circle cx="1285.6" cy="768.3" r="3.95"/><circle cx="1286.4" cy="767.8" r="3.95"/><circle cx="1287.8" cy="767.3" r="3.95"/><circle cx="1289.3" cy="766.7" r="3.95"/><circle cx="1290.7" cy="765.9" r="3.95"/><circle cx="1292.1" cy="764.9" r="3.95"/><circle cx="1292.7" cy="764.7" r="3.95"/><circle cx="1293.7" cy="763.7" r="3.95"/><circle cx="1295.4" cy="762.2" r="3.95"/><circle cx="1296.7" cy="762.1" r="3.95"/><circle cx="1297.5" cy="760.9" r="3.95"/><circle cx="1298.7" cy="759.3" r="3.95"/><circle cx="1299.4" cy="758.6" r="3.95"/><circle cx="1300.7" cy="757.9" r="3.95"/><circle cx="1301.9" cy="756.8" r="3.95"/><circle cx="1303.2" cy="756.1" r="3.95"/><circle cx="1304.1" cy="754.8" r="3.95"/><circle cx="1304.7" cy="753.8" r="3.95"/><circle cx="1306.2" cy="753" r="3.95"/><circle cx="1307.8" cy="752.6" r="3.95"/><circle cx="1309" cy="751.9" r="3.95"/><circle cx="1310.4" cy="751" r="3.95"/><circle cx="1311.1" cy="750.5" r="3.95"/><circle cx="1313" cy="749.5" r="3.95"/><circle cx="1286.2" cy="767" r="3.95"/><circle cx="1287" cy="766" r="3.95"/><circle cx="1287.6" cy="765" r="3.95"/><circle cx="1288.8" cy="763.1" r="3.95"/><circle cx="1289.8" cy="762.7" r="3.95"/><circle cx="1290.7" cy="761.5" r="3.95"/><circle cx="1292.5" cy="760.1" r="3.95"/><circle cx="1292.9" cy="759" r="3.95"/><circle cx="1294.4" cy="758.4" r="3.95"/><circle cx="1295.5" cy="757.3" r="3.95"/><circle cx="1296.1" cy="755.9" r="3.95"/><circle cx="1297.4" cy="755.6" r="3.95"/><circle cx="1298.6" cy="754.5" r="3.95"/><circle cx="1299.5" cy="753.1" r="3.95"/><circle cx="1301.3" cy="752.9" r="3.95"/><circle cx="1303.2" cy="752.2" r="3.95"/><circle cx="1304.3" cy="751.3" r="3.95"/><circle cx="1306" cy="750.5" r="3.95"/><circle cx="1302.5" cy="748" r="3.95"/><circle cx="1307" cy="747" r="3.95"/><circle cx="1311.6" cy="744.9" r="3.95"/><circle cx="1316.7" cy="744.4" r="3.95"/><circle cx="1320.5" cy="746" r="3.95"/><circle cx="1324.8" cy="743.4" r="3.95"/><circle cx="1328.9" cy="742.4" r="3.95"/><circle cx="1331.5" cy="744" r="3.95"/><circle cx="1337" cy="742.4" r="3.95"/><circle cx="1339.1" cy="740.8" r="3.95"/><circle cx="1341.5" cy="739.5" r="3.95"/><circle cx="1344.2" cy="738.3" r="3.95"/><circle cx="1346.2" cy="735.8" r="3.95"/><circle cx="1349" cy="734.2" r="3.95"/><circle cx="1351.3" cy="732.7" r="3.95"/><circle cx="1356.4" cy="730.2" r="3.95"/><circle cx="1356.8" cy="728" r="3.95"/><circle cx="1356.4" cy="726.1" r="3.95"/><circle cx="1367.7" cy="723.6" r="3.95"/><circle cx="1369.6" cy="718.5" r="3.95"/><circle cx="1392.3" cy="713.7" r="3.95"/><circle cx="1401.1" cy="706.8" r="3.95"/><circle cx="1559.8" cy="697.6" r="3.95"/><circle cx="1610.1" cy="683.4" r="3.95"/><circle cx="1618.1" cy="660.8" r="3.95"/><circle cx="1689.9" cy="603.6" r="3.95"/>
</g>
<line x1="1281.7" y1="770.9" x2="1567.7" y2="597.2" stroke="#000" stroke-width="3.8" stroke-linecap="square"/>
<rect x="1281.7" y="450.3" width="484" height="320.6" fill="none" stroke="#000" stroke-width="4.2"/>
<path d="M1281.7 770.9v4.7M1369.7 770.9v4.7M1457.7 770.9v4.7M1545.7 770.9v4.7M1633.7 770.9v4.7M1721.7 770.9v4.7M1281.7 770.9h-5M1281.7 717.5h-5M1281.7 664h-5M1281.7 610.6h-5M1281.7 557.2h-5M1281.7 503.7h-5M1281.7 450.3h-5" stroke="#000" stroke-width="4" fill="none"/>
<path d="M1281.7 744.2h-3.0M1281.7 690.8h-3.0M1281.7 637.3h-3.0M1281.7 583.9h-3.0M1281.7 530.5h-3.0M1281.7 477h-3.0" stroke="#000" stroke-width="1.2" fill="none"/>
<text class="tk" x="1281.7" y="798.9" text-anchor="middle">0</text>
<text class="tk" x="1369.7" y="798.9" text-anchor="middle">2</text>
<text class="tk" x="1457.7" y="798.9" text-anchor="middle">4</text>
<text class="tk" x="1545.7" y="798.9" text-anchor="middle">6</text>
<text class="tk" x="1633.7" y="798.9" text-anchor="middle">8</text>
<text class="tk" x="1721.7" y="798.9" text-anchor="middle">10</text>
<text class="tk" x="1272.9" y="778.6" text-anchor="end">0</text>
<text class="tk" x="1272.9" y="725.2" text-anchor="end">2</text>
<text class="tk" x="1272.9" y="671.7" text-anchor="end">4</text>
<text class="tk" x="1272.9" y="618.3" text-anchor="end">6</text>
<text class="tk" x="1272.9" y="564.9" text-anchor="end">8</text>
<text class="tk" x="1272.9" y="511.4" text-anchor="end">10</text>
<text class="tk" x="1272.9" y="458" text-anchor="end">12</text>
<text class="ti" x="1523.4" y="834.4" text-anchor="middle">Cu</text>
<text class="yt" transform="translate(1238.6 611.8) rotate(-90)" text-anchor="middle" textLength="297" lengthAdjust="spacingAndGlyphs">Expected Lognormal Value</text>
<text class="lb" x="1293.9" y="496.6">(f)</text>
<text x="1549.6" y="479.6" style="font-size:29.78px">shape = -0.84449</text>
<text x="1549.6" y="516.9" style="font-size:29.78px">scale = 1.12296</text>
</g>
<g id="panel-g">
<path fill="none" stroke="#000" stroke-width="1.0" d="M90 1164.3L101.1 1158.2L112.2 1151.9L123.2 1145.4L134.3 1138.7L145.4 1131.8L156.5 1124.7L167.6 1117.4L178.6 1110L189.7 1102.4L200.8 1094.6L211.9 1086.7L223 1078.7L234 1070.5L245.1 1062.3L256.2 1053.9L267.3 1045.4L278.4 1036.8L289.4 1028.2L300.5 1019.4L311.6 1010.6L322.7 1001.8L333.8 992.8L344.8 983.9L355.9 974.9L367 965.8L378.1 956.8L389.2 947.7L400.2 938.7L411.3 929.6L422.4 920.6L433.5 911.5L444.6 902.5L455.6 893.6L466.7 884.7L477.8 875.8"/>
<path fill="none" stroke="#000" stroke-width="1.0" d="M90 1164.3L101.1 1161.5L112.2 1158.7L123.2 1155.9L134.3 1153.2L145.4 1150.6L156.5 1148L167.6 1145.4L178.6 1142.9L189.7 1140.4L200.8 1138L211.9 1135.6L223 1133.2L234 1130.9L245.1 1128.6L256.2 1126.4L267.3 1124.1L278.4 1121.9L289.4 1119.8L300.5 1117.6L311.6 1115.5L322.7 1113.4L333.8 1111.4L344.8 1109.3L355.9 1107.3L367 1105.3L378.1 1103.3L389.2 1101.4L400.2 1099.4L411.3 1097.5L422.4 1095.6L433.5 1093.7L444.6 1091.8L455.6 1089.9L466.7 1088L477.8 1086.1"/>
<clipPath id="cp-g"><rect x="90" y="844.2" width="484.8" height="320.1"/></clipPath>
<g fill="url(#sp)" clip-path="url(#cp-g)">
<circle cx="93" cy="1160.5" r="3.95"/><circle cx="95" cy="1159.8" r="3.95"/><circle cx="97.1" cy="1158.9" r="3.95"/><circle cx="99.1" cy="1158.5" r="3.95"/><circle cx="101.2" cy="1157.4" r="3.95"/><circle cx="103.2" cy="1157" r="3.95"/><circle cx="105.2" cy="1156.2" r="3.95"/><circle cx="107.3" cy="1155.1" r="3.95"/><circle cx="109.3" cy="1154.6" r="3.95"/><circle cx="111.3" cy="1154" r="3.95"/><circle cx="113.4" cy="1153.3" r="3.95"/><circle cx="115.4" cy="1152.3" r="3.95"/><circle cx="117.5" cy="1151.5" r="3.95"/><circle cx="119.5" cy="1150.7" r="3.95"/><circle cx="96" cy="1163.2" r="3.95"/><circle cx="97.9" cy="1162.1" r="3.95"/><circle cx="99.8" cy="1161.6" r="3.95"/><circle cx="101.7" cy="1160.7" r="3.95"/><circle cx="103.7" cy="1160.2" r="3.95"/><circle cx="105.6" cy="1159.7" r="3.95"/><circle cx="107.5" cy="1158.6" r="3.95"/><circle cx="109.4" cy="1158.2" r="3.95"/><circle cx="111.3" cy="1157.3" r="3.95"/><circle cx="113.2" cy="1156.8" r="3.95"/><circle cx="115.1" cy="1156" r="3.95"/><circle cx="117" cy="1155.1" r="3.95"/><circle cx="119" cy="1154.7" r="3.95"/><circle cx="120.9" cy="1153.8" r="3.95"/><circle cx="122.8" cy="1152.9" r="3.95"/><circle cx="124.7" cy="1152.2" r="3.95"/><circle cx="126.6" cy="1151.7" r="3.95"/><circle cx="128.5" cy="1151" r="3.95"/><circle cx="130.4" cy="1150.2" r="3.95"/><circle cx="132.3" cy="1149.4" r="3.95"/><circle cx="134.3" cy="1148.8" r="3.95"/><circle cx="136.2" cy="1148.1" r="3.95"/><circle cx="138.1" cy="1147.7" r="3.95"/><circle cx="140" cy="1146.5" r="3.95"/><circle cx="136" cy="1149.6" r="3.95"/><circle cx="140.8" cy="1147.3" r="3.95"/><circle cx="144.3" cy="1144.3" r="3.95"/><circle cx="144.7" cy="1139.7" r="3.95"/><circle cx="153.8" cy="1138" r="3.95"/><circle cx="170.7" cy="1135.6" r="3.95"/><circle cx="184.1" cy="1131.8" r="3.95"/><circle cx="192.4" cy="1127.9" r="3.95"/><circle cx="205.8" cy="1121.4" r="3.95"/><circle cx="217.6" cy="1113.6" r="3.95"/><circle cx="240.4" cy="1101.2" r="3.95"/><circle cx="250.3" cy="1080.4" r="3.95"/><circle cx="493.3" cy="1022" r="3.95"/>
</g>
<line x1="90" y1="1164.3" x2="477.8" y2="1013.7" stroke="#f00" stroke-width="3.5" stroke-linecap="square"/>
<rect x="90" y="844.2" width="484.8" height="320.1" fill="none" stroke="#000" stroke-width="4.2"/>
<path d="M90 1164.3v4.7M283.9 1164.3v4.7M477.8 1164.3v4.7M90 1164.3h-5M90 1089h-5M90 1013.7h-5M90 938.3h-5M90 863h-5" stroke="#000" stroke-width="4" fill="none"/>
<path d="M90 1126.6h-3.0M90 1051.3h-3.0M90 976h-3.0M90 900.7h-3.0" stroke="#000" stroke-width="1.2" fill="none"/>
<text class="tk" x="90" y="1192.3" text-anchor="middle">0</text>
<text class="tk" x="283.9" y="1192.3" text-anchor="middle">2000</text>
<text class="tk" x="477.8" y="1192.3" text-anchor="middle">4000</text>
<text class="tk" x="81.2" y="1172" text-anchor="end">0</text>
<text class="tk" x="81.2" y="1096.7" text-anchor="end">2000</text>
<text class="tk" x="81.2" y="1021.4" text-anchor="end">4000</text>
<text class="tk" x="81.2" y="946" text-anchor="end">6000</text>
<text class="tk" x="81.2" y="870.7" text-anchor="end">8000</text>
<text class="ti" x="332" y="1226.8" text-anchor="middle">Zn</text>
<text class="yt" transform="translate(22.6 1005.5) rotate(-90)" text-anchor="middle" textLength="297" lengthAdjust="spacingAndGlyphs">Expected Lognormal Value</text>
<text class="lb" x="104" y="886.1">(g)</text>
<text x="367.2" y="874" style="font-size:29.78px">shape = 4.88777</text>
<text x="367.2" y="911.4" style="font-size:29.78px">scale = 1.40924</text>
</g>
<g id="panel-h">
<path fill="none" stroke="#000" stroke-width="1.0" d="M686 1164.3L698.7 1158.9L711.3 1153.3L724 1147.4L736.7 1141.2L749.3 1134.8L762 1128.2L774.7 1121.3L787.3 1114.3L800 1107.1L812.7 1099.6L825.4 1092.1L838 1084.3L850.7 1076.5L863.4 1068.5L876 1060.4L888.7 1052.2L901.4 1043.9L914 1035.6L926.7 1027.2L939.4 1018.7L952 1010.3L964.7 1001.7L977.4 993.2L990 984.7L1002.7 976.3L1015.4 967.8L1028.1 959.4L1040.7 951.1L1053.4 942.8L1066.1 934.6L1078.7 926.5L1091.4 918.5L1104.1 910.7L1116.7 903L1129.4 895.4"/>
<path fill="none" stroke="#000" stroke-width="1.0" d="M686 1164.3L698.7 1161.7L711.3 1159.2L724 1156.7L736.7 1154.2L749.3 1151.8L762 1149.4L774.6 1147L787.3 1144.7L800 1142.4L812.6 1140.1L825.3 1137.9L838 1135.6L850.6 1133.5L863.3 1131.3L875.9 1129.2L888.6 1127.1L901.3 1125L913.9 1123L926.6 1121L939.3 1119L951.9 1117.1L964.6 1115.2L977.2 1113.3L989.9 1111.4L1002.6 1109.6L1015.2 1107.7L1027.9 1106L1040.6 1104.2L1053.2 1102.4L1065.9 1100.7L1078.5 1099L1091.2 1097.4L1103.9 1095.7L1116.5 1094.1L1129.2 1092.5"/>
<clipPath id="cp-h"><rect x="686" y="844.2" width="483.7" height="320.1"/></clipPath>
<g fill="url(#sp)" clip-path="url(#cp-h)">
<circle cx="687.6" cy="1163.9" r="3.95"/><circle cx="688.8" cy="1163.2" r="3.95"/><circle cx="690.6" cy="1162.6" r="3.95"/><circle cx="691.9" cy="1161.6" r="3.95"/><circle cx="693.3" cy="1161.3" r="3.95"/><circle cx="694.7" cy="1160.4" r="3.95"/><circle cx="696" cy="1159.7" r="3.95"/><circle cx="697" cy="1158.9" r="3.95"/><circle cx="698.5" cy="1158.2" r="3.95"/><circle cx="699.7" cy="1157.5" r="3.95"/><circle cx="700.7" cy="1156.6" r="3.95"/><circle cx="702" cy="1155.6" r="3.95"/><circle cx="688.9" cy="1163.8" r="3.95"/><circle cx="690.9" cy="1163.6" r="3.95"/><circle cx="692.6" cy="1163" r="3.95"/><circle cx="694.4" cy="1162.6" r="3.95"/><circle cx="696" cy="1162" r="3.95"/><circle cx="697.3" cy="1161.4" r="3.95"/><circle cx="699" cy="1160.9" r="3.95"/><circle cx="700.6" cy="1160.1" r="3.95"/><circle cx="702" cy="1159.6" r="3.95"/><circle cx="703.5" cy="1154" r="3.95"/><circle cx="706" cy="1152.8" r="3.95"/><circle cx="709" cy="1151.7" r="3.95"/><circle cx="711.8" cy="1150.8" r="3.95"/><circle cx="715.5" cy="1149.6" r="3.95"/><circle cx="719" cy="1148.5" r="3.95"/><circle cx="727.4" cy="1147.6" r="3.95"/><circle cx="733.3" cy="1145.9" r="3.95"/><circle cx="739.1" cy="1145.4" r="3.95"/><circle cx="751.5" cy="1144.1" r="3.95"/><circle cx="774.5" cy="1141.7" r="3.95"/><circle cx="790.2" cy="1139.8" r="3.95"/><circle cx="799.8" cy="1137.2" r="3.95"/><circle cx="821.6" cy="1133.6" r="3.95"/><circle cx="846.1" cy="1130.1" r="3.95"/><circle cx="858.9" cy="1124.5" r="3.95"/><circle cx="890.8" cy="1117.3" r="3.95"/><circle cx="1022.1" cy="1106.2" r="3.95"/><circle cx="1025.7" cy="1086.5" r="3.95"/><circle cx="1034.1" cy="1032.6" r="3.95"/>
</g>
<line x1="686" y1="1164.3" x2="1129.4" y2="1023.5" stroke="#f00" stroke-width="3.5" stroke-linecap="square"/>
<rect x="686" y="844.2" width="483.7" height="320.1" fill="none" stroke="#000" stroke-width="4.2"/>
<path d="M686 1164.3v4.7M766.6 1164.3v4.7M847.2 1164.3v4.7M927.9 1164.3v4.7M1008.5 1164.3v4.7M1089.1 1164.3v4.7M1169.7 1164.3v4.7M686 1164.3h-5M686 1100.3h-5M686 1036.3h-5M686 972.2h-5M686 908.2h-5M686 844.2h-5" stroke="#000" stroke-width="4" fill="none"/>
<path d="M686 1132.3h-3.0M686 1068.3h-3.0M686 1004.2h-3.0M686 940.2h-3.0M686 876.2h-3.0" stroke="#000" stroke-width="1.2" fill="none"/>
<text class="tk" x="686" y="1192.3" text-anchor="middle">0.0</text>
<text class="tk" x="766.6" y="1192.3" text-anchor="middle">0.2</text>
<text class="tk" x="847.2" y="1192.3" text-anchor="middle">0.4</text>
<text class="tk" x="927.9" y="1192.3" text-anchor="middle">0.6</text>
<text class="tk" x="1008.5" y="1192.3" text-anchor="middle">0.8</text>
<text class="tk" x="1089.1" y="1192.3" text-anchor="middle">1.0</text>
<text class="tk" x="1169.7" y="1192.3" text-anchor="middle">1.2</text>
<text class="tk" x="677.2" y="1172" text-anchor="end">0.0</text>
<text class="tk" x="677.2" y="1108" text-anchor="end">0.5</text>
<text class="tk" x="677.2" y="1044" text-anchor="end">1.0</text>
<text class="tk" x="677.2" y="979.9" text-anchor="end">1.5</text>
<text class="tk" x="677.2" y="915.9" text-anchor="end">2.0</text>
<text class="tk" x="677.2" y="851.9" text-anchor="end">2.5</text>
<text class="ti" x="927.6" y="1228.2" text-anchor="middle">Cd</text>
<text class="yt" transform="translate(636.6 1005.5) rotate(-90)" text-anchor="middle" textLength="297" lengthAdjust="spacingAndGlyphs">Expected Lognormal Value</text>
<text class="lb" x="695.8" y="883.6">(h)</text>
<text x="949.5" y="871.5" style="font-size:29.78px">shape = -3.16706</text>
<text x="949.5" y="908.9" style="font-size:29.78px">scale = 1.36891</text>
</g>
<g id="panel-i">
<path fill="none" stroke="#000" stroke-width="1.0" d="M1281.7 1164.3L1291.6 1158.7L1301.6 1152.7L1311.5 1146.5L1321.5 1140.1L1331.4 1133.3L1341.4 1126.4L1351.3 1119.2L1361.3 1111.8L1371.2 1104.2L1381.2 1096.4L1391.1 1088.5L1401 1080.3L1411 1072.1L1420.9 1063.7L1430.9 1055.1L1440.8 1046.5L1450.8 1037.7L1460.7 1028.9L1470.7 1020L1480.6 1011.1L1490.6 1002.1L1500.5 993L1510.5 984L1520.4 974.9L1530.3 965.8L1540.3 956.8L1550.2 947.7L1560.2 938.8L1570.1 929.8L1580.1 921L1590 912.2L1600 903.5L1609.9 895L1619.9 886.5L1629.8 878.2"/>
<path fill="none" stroke="#000" stroke-width="1.0" d="M1281.7 1164.3L1291.6 1161.8L1301.6 1159.4L1311.5 1157L1321.5 1154.7L1331.4 1152.5L1341.4 1150.3L1351.3 1148.1L1361.3 1146L1371.2 1143.9L1381.2 1141.9L1391.1 1139.9L1401 1137.9L1411 1136L1420.9 1134.1L1430.9 1132.2L1440.8 1130.4L1450.8 1128.6L1460.7 1126.8L1470.7 1125.1L1480.6 1123.3L1490.6 1121.6L1500.5 1119.9L1510.5 1118.3L1520.4 1116.6L1530.3 1115L1540.3 1113.3L1550.2 1111.7L1560.2 1110.1L1570.1 1108.5L1580.1 1106.9L1590 1105.3L1600 1103.6L1609.9 1102L1619.9 1100.4L1629.8 1098.8"/>
<clipPath id="cp-i"><rect x="1281.7" y="844.2" width="484" height="320.1"/></clipPath>
<g fill="url(#sp)" clip-path="url(#cp-i)">
<circle cx="1282.8" cy="1163.8" r="3.95"/><circle cx="1284.1" cy="1162.2" r="3.95"/><circle cx="1285.4" cy="1160.9" r="3.95"/><circle cx="1286.8" cy="1160" r="3.95"/><circle cx="1287.9" cy="1158.6" r="3.95"/><circle cx="1289.1" cy="1157.7" r="3.95"/><circle cx="1290.3" cy="1156.6" r="3.95"/><circle cx="1291.4" cy="1155.8" r="3.95"/><circle cx="1293.2" cy="1155.3" r="3.95"/><circle cx="1294.4" cy="1154.9" r="3.95"/><circle cx="1296.2" cy="1154" r="3.95"/><circle cx="1297.5" cy="1153.3" r="3.95"/><circle cx="1299.2" cy="1152.8" r="3.95"/><circle cx="1300.8" cy="1152.2" r="3.95"/><circle cx="1302.7" cy="1151.9" r="3.95"/><circle cx="1304.7" cy="1151.5" r="3.95"/><circle cx="1306.3" cy="1150.8" r="3.95"/><circle cx="1284" cy="1163.7" r="3.95"/><circle cx="1285.7" cy="1163" r="3.95"/><circle cx="1287.3" cy="1162" r="3.95"/><circle cx="1288.9" cy="1161.8" r="3.95"/><circle cx="1290.4" cy="1160.8" r="3.95"/><circle cx="1292.1" cy="1160.3" r="3.95"/><circle cx="1293.4" cy="1159.2" r="3.95"/><circle cx="1295" cy="1158.6" r="3.95"/><circle cx="1320.8" cy="1151.3" r="3.95"/><circle cx="1323" cy="1150.6" r="3.95"/><circle cx="1325.3" cy="1149.7" r="3.95"/><circle cx="1327.5" cy="1149" r="3.95"/><circle cx="1329.9" cy="1148.2" r="3.95"/><circle cx="1395.2" cy="1145.5" r="3.95"/><circle cx="1417.6" cy="1143.3" r="3.95"/><circle cx="1434.4" cy="1140.1" r="3.95"/><circle cx="1449.2" cy="1136.8" r="3.95"/><circle cx="1474.5" cy="1131.9" r="3.95"/><circle cx="1502.7" cy="1125.3" r="3.95"/><circle cx="1509.9" cy="1114.4" r="3.95"/><circle cx="1514" cy="1095.3" r="3.95"/><circle cx="1716.9" cy="1039.6" r="3.95"/>
</g>
<line x1="1281.7" y1="1164.3" x2="1630.2" y2="1027.1" stroke="#f00" stroke-width="3.5" stroke-linecap="square"/>
<rect x="1281.7" y="844.2" width="484" height="320.1" fill="none" stroke="#000" stroke-width="4.2"/>
<path d="M1281.7 1164.3v4.7M1359.1 1164.3v4.7M1436.6 1164.3v4.7M1514 1164.3v4.7M1591.5 1164.3v4.7M1668.9 1164.3v4.7M1746.3 1164.3v4.7M1281.7 1164.3h-5M1281.7 1088.1h-5M1281.7 1011.9h-5M1281.7 935.7h-5M1281.7 859.4h-5" stroke="#000" stroke-width="4" fill="none"/>
<path d="M1281.7 1126.2h-3.0M1281.7 1050h-3.0M1281.7 973.8h-3.0M1281.7 897.5h-3.0" stroke="#000" stroke-width="1.2" fill="none"/>
<text class="tk" x="1281.7" y="1192.3" text-anchor="middle">0</text>
<text class="tk" x="1359.1" y="1192.3" text-anchor="middle">2</text>
<text class="tk" x="1436.6" y="1192.3" text-anchor="middle">4</text>
<text class="tk" x="1514" y="1192.3" text-anchor="middle">6</text>
<text class="tk" x="1591.5" y="1192.3" text-anchor="middle">8</text>
<text class="tk" x="1668.9" y="1192.3" text-anchor="middle">10</text>
<text class="tk" x="1746.3" y="1192.3" text-anchor="middle">12</text>
<text class="tk" x="1272.9" y="1172" text-anchor="end">0</text>
<text class="tk" x="1272.9" y="1095.8" text-anchor="end">5</text>
<text class="tk" x="1272.9" y="1019.6" text-anchor="end">10</text>
<text class="tk" x="1272.9" y="943.4" text-anchor="end">15</text>
<text class="tk" x="1272.9" y="867.1" text-anchor="end">20</text>
<text class="ti" x="1524.2" y="1228.5" text-anchor="middle">Pb</text>
<text class="yt" transform="translate(1239.1 1005.5) rotate(-90)" text-anchor="middle" textLength="297" lengthAdjust="spacingAndGlyphs">Expected Lognormal Value</text>
<text class="lb" x="1294" y="883.5">(i)</text>
<text x="1547" y="874" style="font-size:29.78px">shape = -1.64857</text>
<text x="1547" y="911.4" style="font-size:29.78px">scale = 1.57868</text>
</g>
</svg></body></html>
